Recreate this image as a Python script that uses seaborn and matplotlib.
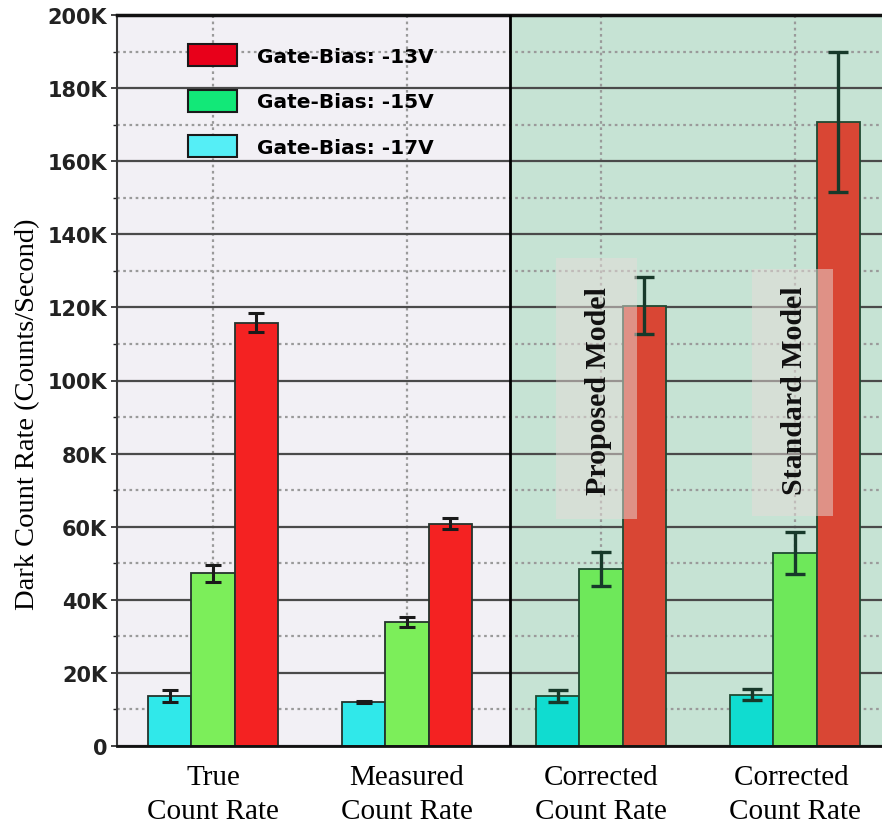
import numpy as np
import pandas as pd
import matplotlib
matplotlib.use("Agg")
import matplotlib.pyplot as plt
from matplotlib.patches import Rectangle, Patch
from matplotlib.ticker import MultipleLocator, FuncFormatter
import seaborn as sns

# ---- data ----
categories = ["True\nCount Rate", "Measured\nCount Rate",
              "Corrected\nCount Rate", "Corrected \nCount Rate"]
biases = ["Gate-Bias: -17V", "Gate-Bias: -15V", "Gate-Bias: -13V"]
rate_17v = [13700, 12000, 13700, 14000]
rate_15v = [47300, 33900, 48400, 52800]
rate_13v = [115800, 60800, 120400, 170700]
err_17v = [1600, 300, 1600, 1500]
err_15v = [2300, 1300, 4600, 5700]
err_13v = [2600, 1500, 7800, 19200]
legend_order = ["Gate-Bias: -13V", "Gate-Bias: -15V", "Gate-Bias: -17V"]
box_labels = ["Proposed Model", "Standard Model"]

values = {biases[0]: rate_17v, biases[1]: rate_15v, biases[2]: rate_13v}
errors = {biases[0]: err_17v, biases[1]: err_15v, biases[2]: err_13v}

df = pd.DataFrame([
    {"category": c, "bias": b, "rate": values[b][i]}
    for b in biases for i, c in enumerate(categories)
])

# colours: plain panel / shaded (corrected) panel
bar_plain = {biases[0]: "#30e8ea", biases[1]: "#7cee5a", biases[2]: "#f42222"}
bar_shade = {biases[0]: "#10dcd0", biases[1]: "#6ee85a", biases[2]: "#d94634"}
legend_col = {"Gate-Bias: -13V": "#e8001a", "Gate-Bias: -15V": "#12e878",
              "Gate-Bias: -17V": "#55eef6"}

fig = plt.figure(figsize=(8.82, 8.29), dpi=100)
ax = fig.add_axes([117 / 882, 1 - 747 / 829, (882 - 117) / 882, (747 - 16) / 829])
ax.set_facecolor("#f2f0f5")

sns.barplot(data=df, x="category", y="rate", hue="bias", hue_order=biases,
            order=categories, palette=bar_plain, saturation=1, width=0.67,
            errorbar=None, edgecolor="#24332c", linewidth=1.3, legend=False,
            ax=ax, zorder=2)

ax.set_xlim(-0.495, 3.448)
ax.set_ylim(0, 200000)

# shaded region for the corrected estimates
x_shade = 1.53
ax.add_patch(Rectangle((x_shade, 0), 5, 200000, facecolor="#c6e3d4",
                       edgecolor="none", zorder=0.2))
ax.axvline(x_shade, color="black", lw=2, zorder=3)

# error bars + recolour of bars in the shaded region
for b, cont in zip(biases, ax.containers):
    xs, ys = [], []
    for i, p in enumerate(cont.patches):
        xs.append(p.get_x() + p.get_width() / 2)
        ys.append(p.get_height())
        if i >= 2:
            p.set_facecolor(bar_shade[b])
            p.set_edgecolor("#1f4a32")
    xs = np.array(xs)
    ys = np.array(ys)
    e = np.array(errors[b])
    ax.errorbar(xs[:2], ys[:2], yerr=e[:2], fmt="none", ecolor="#1a1a1a",
                elinewidth=2.2, capsize=6, capthick=2.2, zorder=5)
    ax.errorbar(xs[2:], ys[2:], yerr=e[2:], fmt="none", ecolor="#17392a",
                elinewidth=2.4, capsize=7, capthick=2.4, zorder=5)

# translucent label boxes
box_x = [(1.768, 2.186), (2.778, 3.196)]
box_y = [(62000, 133500), (63000, 130500)]
for lab, (x0, x1), (y0, y1) in zip(box_labels, box_x, box_y):
    ax.add_patch(Rectangle((x0, y0), x1 - x0, y1 - y0, facecolor="#e6dcd8",
                           edgecolor="none", alpha=0.5, zorder=6))
    ax.text((x0 + x1) / 2 + 0.01, 97500, lab, rotation=90, ha="center",
            va="center", fontsize=21.5, fontweight="bold",
            family="Liberation Serif", color="#111111", zorder=7)

# grid
ax.set_axisbelow(True)
ax.yaxis.set_major_locator(MultipleLocator(20000))
ax.yaxis.set_minor_locator(MultipleLocator(10000))
ax.yaxis.grid(True, which="major", color="#4a4a4a", lw=1.6, ls="-")
ax.yaxis.grid(True, which="minor", color="#9a9a9a", lw=1.6, ls=(0, (1.2, 1.6)))
ax.xaxis.grid(True, which="major", color="#9a9a9a", lw=1.6, ls=(0, (1.2, 1.6)))

ax.yaxis.set_major_formatter(FuncFormatter(
    lambda v, _: "0" if v == 0 else f"{int(round(v / 1000))}K"))
for t in ax.get_yticklabels():
    t.set_fontweight("bold")
ax.tick_params(axis="y", which="major", labelsize=15, length=4, width=1.2,
               pad=3, colors="#222222")
ax.tick_params(axis="y", which="minor", length=3, width=1.0, color="#222222")
ax.tick_params(axis="x", length=0, pad=13, labelsize=21)
for t in ax.get_xticklabels():
    t.set_family("Liberation Serif")
    t.set_linespacing(1.4)

ax.set_xlabel("")
ax.set_ylabel("Dark Count Rate (Counts/Second)", family="Liberation Serif",
              fontsize=20.5)
ax.yaxis.set_label_coords(-0.10, 0.455)

ax.spines["left"].set_color("#3a3a3a")
ax.spines["left"].set_linewidth(1.5)
ax.spines["bottom"].set_color("#111111")
ax.spines["bottom"].set_linewidth(2)
ax.spines["top"].set_color("#111111")
ax.spines["top"].set_linewidth(2.5)
ax.spines["right"].set_visible(False)

handles = [Patch(facecolor=legend_col[n], edgecolor="#1a1a1a", linewidth=1.5)
           for n in legend_order]
ax.legend(handles, legend_order, loc="upper left",
          bbox_to_anchor=(0.093, 0.960), frameon=False, borderpad=0,
          borderaxespad=0, handlelength=2.45, handleheight=1.3,
          handletextpad=0.95, labelspacing=1.17,
          prop={"weight": "bold", "size": 14.5})

fig.savefig("out.png", dpi=100, facecolor="white")
